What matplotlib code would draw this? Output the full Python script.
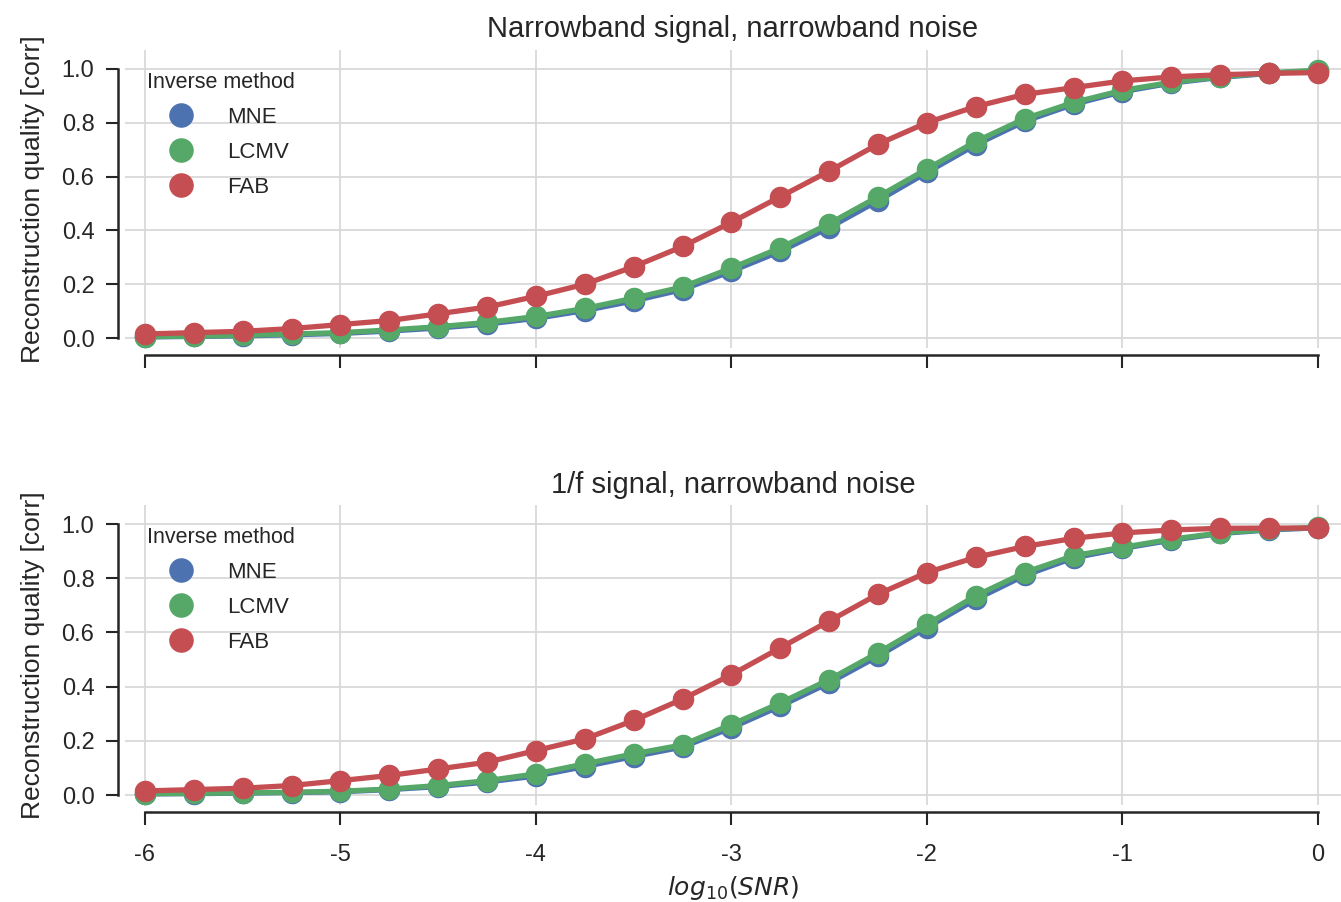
import numpy as np
import matplotlib
matplotlib.use("Agg")
import matplotlib.pyplot as plt
import seaborn as sns

# log10(SNR) values, shared by both panels
snr = np.arange(-6, 0.01, 0.25)

methods = ["MNE", "LCMV", "FAB"]
colors = ["#4C72B0", "#55A868", "#C44E52"]

# top panel: narrowband signal, narrowband noise
mne_nb = [0.004, 0.006, 0.008, 0.012, 0.017, 0.026, 0.037, 0.052, 0.073, 0.102, 0.138, 0.18,
          0.248, 0.322, 0.41, 0.51, 0.615, 0.718, 0.805, 0.868, 0.915, 0.947, 0.968, 0.983, 0.993]
lcmv_nb = [0.005, 0.007, 0.01, 0.015, 0.02, 0.03, 0.042, 0.058, 0.08, 0.11, 0.148, 0.19,
           0.26, 0.335, 0.425, 0.525, 0.628, 0.73, 0.815, 0.875, 0.92, 0.95, 0.97, 0.985, 0.995]
fab_nb = [0.015, 0.02, 0.025, 0.035, 0.05, 0.065, 0.09, 0.115, 0.155, 0.2, 0.265, 0.34,
          0.43, 0.525, 0.62, 0.72, 0.80, 0.86, 0.905, 0.93, 0.955, 0.97, 0.978, 0.983, 0.986]

# bottom panel: 1/f signal, narrowband noise
mne_1f = [0.004, 0.005, 0.007, 0.009, 0.012, 0.02, 0.031, 0.048, 0.07, 0.105, 0.142, 0.177,
          0.248, 0.328, 0.414, 0.512, 0.618, 0.722, 0.81, 0.875, 0.91, 0.94, 0.965, 0.978, 0.986]
lcmv_1f = [0.005, 0.006, 0.008, 0.01, 0.014, 0.022, 0.035, 0.053, 0.078, 0.115, 0.152, 0.185,
           0.26, 0.34, 0.426, 0.525, 0.63, 0.735, 0.821, 0.883, 0.914, 0.944, 0.967, 0.98, 0.988]
fab_1f = [0.015, 0.02, 0.025, 0.035, 0.053, 0.072, 0.096, 0.121, 0.164, 0.207, 0.275, 0.354,
          0.444, 0.543, 0.642, 0.741, 0.821, 0.877, 0.917, 0.947, 0.967, 0.978, 0.984, 0.985, 0.985]

panels = [
    ("Narrowband signal, narrowband noise", [mne_nb, lcmv_nb, fab_nb]),
    ("1/f signal, narrowband noise", [mne_1f, lcmv_1f, fab_1f]),
]

sns.set_style("whitegrid")
plt.rcParams['font.family'] = ['Liberation Sans', 'DejaVu Sans']
plt.rcParams['axes.unicode_minus'] = False
plt.rcParams['grid.color'] = '#d9d9d9'
plt.rcParams['grid.linewidth'] = 1.3

fig = plt.figure(figsize=(13.41, 9.02), dpi=100)
ax_top = fig.add_axes([0.0932, 0.6142, 0.9068, 0.3304])
ax_bot = fig.add_axes([0.0932, 0.1075, 0.9068, 0.3326])

for ax, (title, series) in zip([ax_top, ax_bot], panels):
    for name, col, vals in zip(methods, colors, series):
        ax.plot(snr, vals, '-o', color=col, lw=3.8, ms=14.5, mec=col,
                label=name, clip_on=False)
    ax.set_xlim(-6.102, 0.118)
    ax.set_ylim(-0.037, 1.07)
    ax.set_xticks(range(-6, 1))
    ax.set_yticks(np.arange(0, 1.01, 0.2))
    ax.set_yticklabels(["%.1f" % v for v in np.arange(0, 1.01, 0.2)])
    ax.set_title(title, fontsize=21, pad=9)
    ax.set_ylabel("Reconstruction quality [corr]", fontsize=19, labelpad=12)
    ax.tick_params(axis='both', direction='out', length=9, width=1.5,
                   color='#262626', labelsize=17, pad=8, left=True, bottom=True)
    ax.tick_params(axis='x', pad=14)
    for sp in ['left', 'bottom']:
        ax.spines[sp].set_color('#262626')
        ax.spines[sp].set_linewidth(1.8)
    leg = ax.legend(title="Inverse method", loc='upper left', frameon=False,
                    fontsize=16, title_fontsize=15.5, handlelength=3.0,
                    handletextpad=0.6, labelspacing=0.62, borderaxespad=0.6,
                    alignment='left', markerscale=1.15)
    for h in leg.legend_handles:
        h.set_linestyle('')
    sns.despine(ax=ax, offset=5, trim=True)

ax_top.set_xticklabels([])
ax_bot.set_xlabel(r"$log_{10}(SNR)$", fontsize=18, labelpad=6)

fig.savefig("out.png", dpi=100)
